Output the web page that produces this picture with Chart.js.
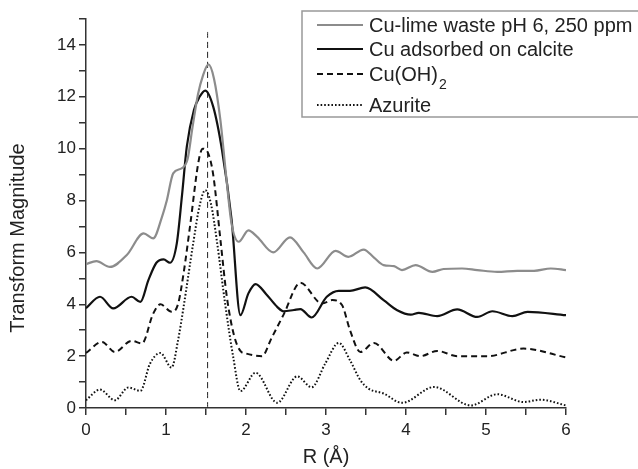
<!DOCTYPE html>
<html>
<head>
<meta charset="utf-8">
<script src="https://cdn.jsdelivr.net/npm/chart.js@4/dist/chart.umd.min.js"></script>
<style>
    body { margin: 0; background: #fff; }
</style>
</head>
<body>
<canvas id="chart1" width="638" height="469"></canvas>
<script>
// FT magnitudes

const rGray = [0, 0.13, 0.30, 0.51, 0.72, 0.84, 0.95, 1.01, 1.09, 1.20, 1.27, 1.33, 1.40, 1.46, 1.53, 1.60, 1.68, 1.75, 1.82, 1.91, 2.03, 2.14, 2.34, 2.55, 2.72, 2.89, 3.12, 3.28, 3.47, 3.60, 3.72, 3.85, 3.95, 4.12, 4.33, 4.47, 4.70, 4.89, 5.14, 5.39, 5.60, 5.81, 6.0];
const magGray = [5.55, 5.66, 5.44, 5.9, 6.73, 6.54, 7.37, 8.0, 9.05, 9.25, 9.6, 10.8, 12.1, 12.8, 13.25, 12.7, 11.1, 9.0, 7.1, 6.41, 6.85, 6.6, 6.0, 6.58, 6.0, 5.38, 6.06, 5.83, 6.11, 5.8, 5.51, 5.47, 5.32, 5.51, 5.25, 5.36, 5.38, 5.32, 5.25, 5.29, 5.29, 5.38, 5.32];

const rCalcite = [0, 0.175, 0.34, 0.57, 0.68, 0.78, 0.88, 0.97, 1.05, 1.135, 1.20, 1.26, 1.35, 1.42, 1.49, 1.59, 1.70, 1.82, 1.93, 2.03, 2.12, 2.25, 2.39, 2.47, 2.60, 2.68, 2.82, 3.01, 3.16, 3.30, 3.49, 3.72, 3.89, 4.06, 4.16, 4.39, 4.64, 4.89, 5.08, 5.33, 5.52, 6.0];
const magCalcite = [3.85, 4.29, 3.84, 4.29, 4.09, 4.93, 5.6, 5.73, 5.6, 6.35, 8.2, 10.08, 11.5, 12.0, 12.24, 11.62, 9.95, 7.25, 3.58, 4.42, 4.78, 4.4, 3.9, 3.73, 3.78, 3.81, 3.49, 4.29, 4.52, 4.52, 4.65, 4.16, 3.77, 3.6, 3.67, 3.54, 3.80, 3.51, 3.73, 3.54, 3.71, 3.58];

const rHyd = [0, 0.2, 0.36, 0.57, 0.70, 0.84, 0.93, 1.07, 1.15, 1.22, 1.30, 1.41, 1.46, 1.53, 1.59, 1.68, 1.76, 1.85, 1.93, 2.0, 2.2, 2.32, 2.47, 2.68, 2.95, 3.08, 3.2, 3.3, 3.43, 3.6, 3.85, 4.01, 4.18, 4.39, 4.64, 5.02, 5.47, 6.0];
const magHyd = [2.12, 2.55, 2.16, 2.59, 2.49, 3.64, 4.0, 3.71, 4.0, 5.2, 7.0, 9.56, 10.0, 9.8, 9.0, 6.5, 4.3, 2.8, 2.2, 2.1, 2.0, 2.7, 3.6, 4.83, 4.03, 4.16, 3.97, 3.0, 2.16, 2.51, 1.82, 2.14, 2.0, 2.2, 2.0, 2.0, 2.29, 1.95];

const rAzu = [0, 0.175, 0.36, 0.53, 0.68, 0.80, 0.93, 1.07, 1.15, 1.22, 1.34, 1.42, 1.49, 1.56, 1.64, 1.74, 1.84, 1.93, 2.12, 2.39, 2.64, 2.82, 2.99, 3.16, 3.30, 3.43, 3.53, 3.72, 3.95, 4.35, 4.81, 5.14, 5.47, 5.68, 6.0];
const magAzu = [0.3, 0.71, 0.3, 0.79, 0.66, 1.71, 2.12, 1.56, 2.6, 3.9, 6.35, 7.8, 8.4, 7.9, 6.35, 4.0, 1.97, 0.65, 1.36, 0.2, 1.22, 0.8, 1.71, 2.51, 1.84, 1.07, 0.75, 0.56, 0.2, 0.81, 0.1, 0.53, 0.23, 0.32, 0.1];

// vertical marker at the first shell
const markerR = [1.52, 1.52];
const markerMag = [0, 14.5];

const seriesNames = ['Cu-lime waste pH 6, 250 ppm', 'Cu adsorbed on calcite', 'Cu(OH)', 'Azurite'];

const FONT = "'Liberation Sans', Arial, sans-serif";
const TEXT = '#222';

function pts(xs, ys) {
    return xs.map((x, i) => ({ x: x, y: ys[i] }));
}

const styles = [
    { color: '#8c8c8c', width: 2.2, dash: [] },
    { color: '#111', width: 2.2, dash: [] },
    { color: '#111', width: 2, dash: [6, 4] },
    { color: '#111', width: 2, dash: [1.6, 2] }
];

// legend box + axis titles drawn by hand (boxed legend with subscript)
const extras = {
    id: 'extras',
    afterDraw(chart) {
        const ctx = chart.ctx;
        ctx.save();

        ctx.strokeStyle = '#999';
        ctx.lineWidth = 1.5;
        ctx.strokeRect(302, 11, 345, 106);

        const rowsY = [25, 49, 74, 105];
        ctx.font = '20px ' + FONT;
        ctx.textBaseline = 'middle';
        ctx.fillStyle = TEXT;
        rowsY.forEach((y, i) => {
            const s = styles[i];
            ctx.beginPath();
            ctx.strokeStyle = s.color;
            ctx.lineWidth = s.width;
            ctx.setLineDash(s.dash);
            ctx.moveTo(317, y);
            ctx.lineTo(363, y);
            ctx.stroke();
            ctx.setLineDash([]);
            ctx.fillText(seriesNames[i], 369, y + 1);
            if (i === 2) {
                const w = ctx.measureText(seriesNames[i]).width;
                ctx.font = '14px ' + FONT;
                ctx.fillText('2', 369 + w + 1, y + 11);
                ctx.font = '20px ' + FONT;
            }
        });

        // axis titles
        ctx.font = '20px ' + FONT;
        ctx.textAlign = 'center';
        ctx.fillText('R (Å)', 326, 457);

        ctx.translate(18, 238);
        ctx.rotate(-Math.PI / 2);
        ctx.fillText('Transform Magnitude', 0, 0);

        ctx.restore();
    }
};

const axisLine = { color: '#333', width: 1.5 };
const tickMarks = { drawOnChartArea: false, drawTicks: true, tickLength: 7, color: '#333', lineWidth: 1.5 };

let chart1 = new Chart(document.getElementById('chart1'), {
    type: 'line',
    data: {
        datasets: [
            { data: pts(rGray, magGray) },
            { data: pts(rCalcite, magCalcite) },
            { data: pts(rHyd, magHyd) },
            { data: pts(rAzu, magAzu) },
            { data: pts(markerR, markerMag), borderColor: '#222', borderWidth: 1, borderDash: [6, 4], tension: 0 }
        ].map((d, i) => Object.assign({
            borderColor: styles[i] ? styles[i].color : '#222',
            borderWidth: styles[i] ? styles[i].width : 1,
            borderDash: styles[i] ? styles[i].dash : [],
            pointRadius: 0,
            fill: false,
            cubicInterpolationMode: 'monotone'
        }, d))
    },
    options: {
        responsive: false,
        animation: false,
        layout: { padding: { top: 19, right: 72, left: 0, bottom: 0 } },
        plugins: { legend: { display: false }, tooltip: { enabled: false } },
        scales: {
            x: {
                type: 'linear',
                min: 0,
                max: 6,
                border: axisLine,
                grid: tickMarks,
                ticks: {
                    stepSize: 0.5,
                    padding: 5,
                    color: TEXT,
                    font: { family: FONT, size: 17 },
                    maxRotation: 0,
                    callback: v => Number.isInteger(v) ? v : ''
                },
                afterFit: s => { s.height = 61; }
            },
            y: {
                min: 0,
                max: 15,
                border: axisLine,
                grid: tickMarks,
                ticks: {
                    stepSize: 1,
                    padding: 3,
                    color: TEXT,
                    font: { family: FONT, size: 17 },
                    callback: v => (v % 2 === 0) ? v : ''
                },
                afterFit: s => { s.width = 86; }
            }
        }
    },
    plugins: [extras]
});
</script>
</body>
</html>
